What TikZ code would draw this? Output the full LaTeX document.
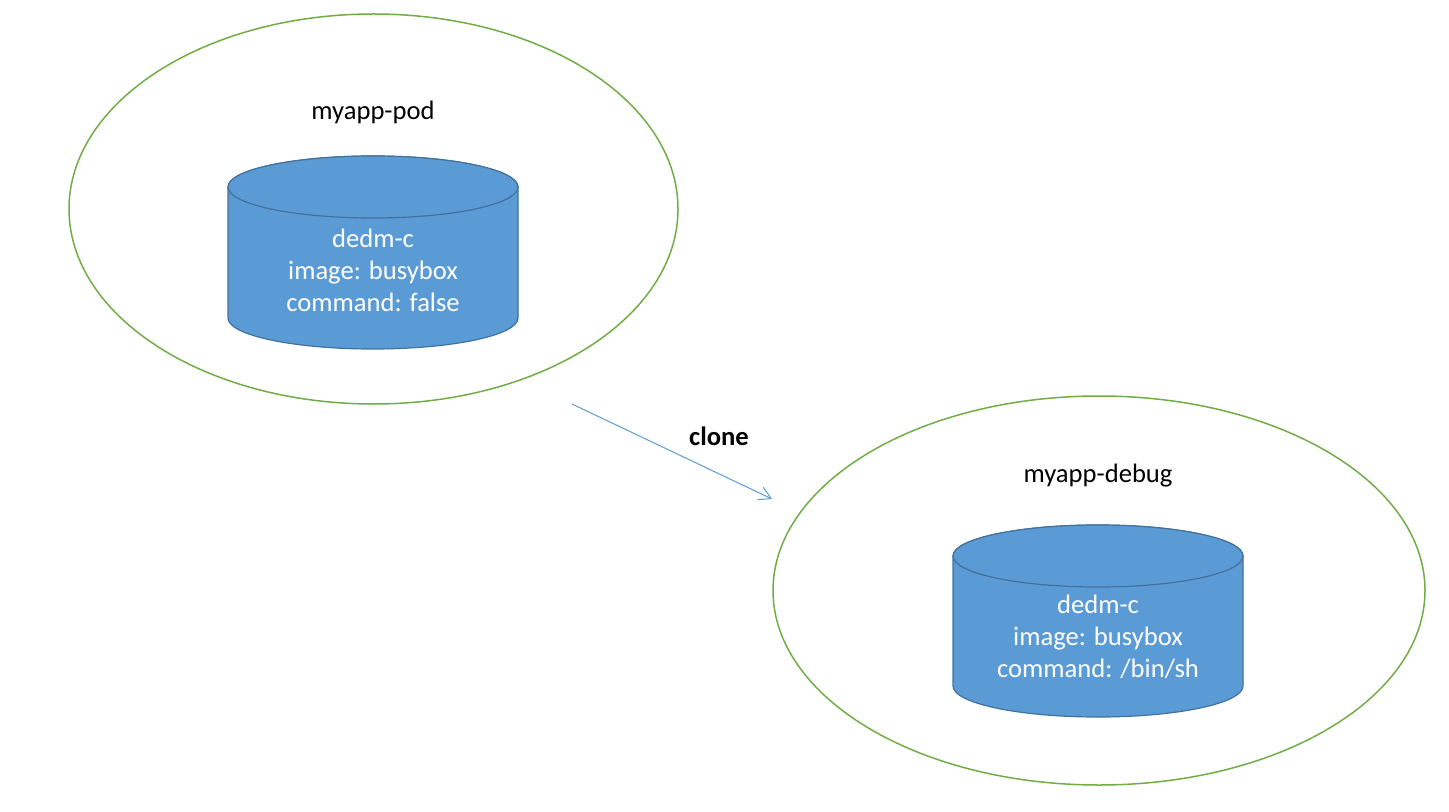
\documentclass[tikz,border=0pt]{standalone}
\usepackage{fontspec}
\setmainfont{Carlito}
\usetikzlibrary{shapes.geometric,arrows.meta}
\definecolor{podgreen}{HTML}{70AD47}
\definecolor{cylfill}{HTML}{5B9BD5}
\definecolor{cylline}{HTML}{41719C}
\begin{document}
\begin{tikzpicture}[x=0.5pt,y=-0.5pt,
  pod/.style={draw=podgreen,line width=0.75pt,ellipse,inner sep=0pt},
  cyl/.style={fill=cylfill,draw=cylline,line width=0.6pt},
  cyltext/.style={text=white,align=center,font=\fontsize{13.3pt}{16pt}\selectfont},
  title/.style={text=black,font=\fontsize{13.3pt}{16pt}\selectfont},
  link/.style={draw=cylfill,line width=0.5pt,-{Straight Barb[length=6pt,width=7pt]}}]
\useasboundingbox (0,0) rectangle (1449,812);
% pods
\node[pod,minimum width=304.5pt,minimum height=195pt] (pod1) at (373.5,209) {};
\node[pod,minimum width=326pt,minimum height=194.5pt] (pod2) at (1099,590.5) {};
% cylinder 1
\path[cyl] (228,187) -- (228,318) arc[start angle=180,end angle=0,x radius=145,y radius=31]
  -- (518,187) arc[start angle=0,end angle=-180,x radius=145,y radius=31] -- cycle;
\draw[cyl] (373,187) ellipse[x radius=145,y radius=31];
% cylinder 2
\path[cyl] (953,556) -- (953,686) arc[start angle=180,end angle=0,x radius=145,y radius=31]
  -- (1243,556) arc[start angle=0,end angle=-180,x radius=145,y radius=31] -- cycle;
\draw[cyl] (1098,556) ellipse[x radius=145,y radius=31];
% texts
\node[title] (t1) at (373,112) {myapp-pod};
\node[title] (t2) at (1098,476) {myapp-debug};
\node[cyltext] (c1) at (373,270) {dedm-c\\image: busybox\\command: false};
\node[cyltext] (c2) at (1098,637) {dedm-c\\image: busybox\\command: /bin/sh};
\node[title,font=\bfseries\fontsize{13.3pt}{16pt}\selectfont] (cl) at (719,436) {clone};
% arrow
\coordinate (a1) at (572,404);
\coordinate (a2) at (772,499);
\draw[link] (a1) -- (a2);
\end{tikzpicture}
\end{document}
